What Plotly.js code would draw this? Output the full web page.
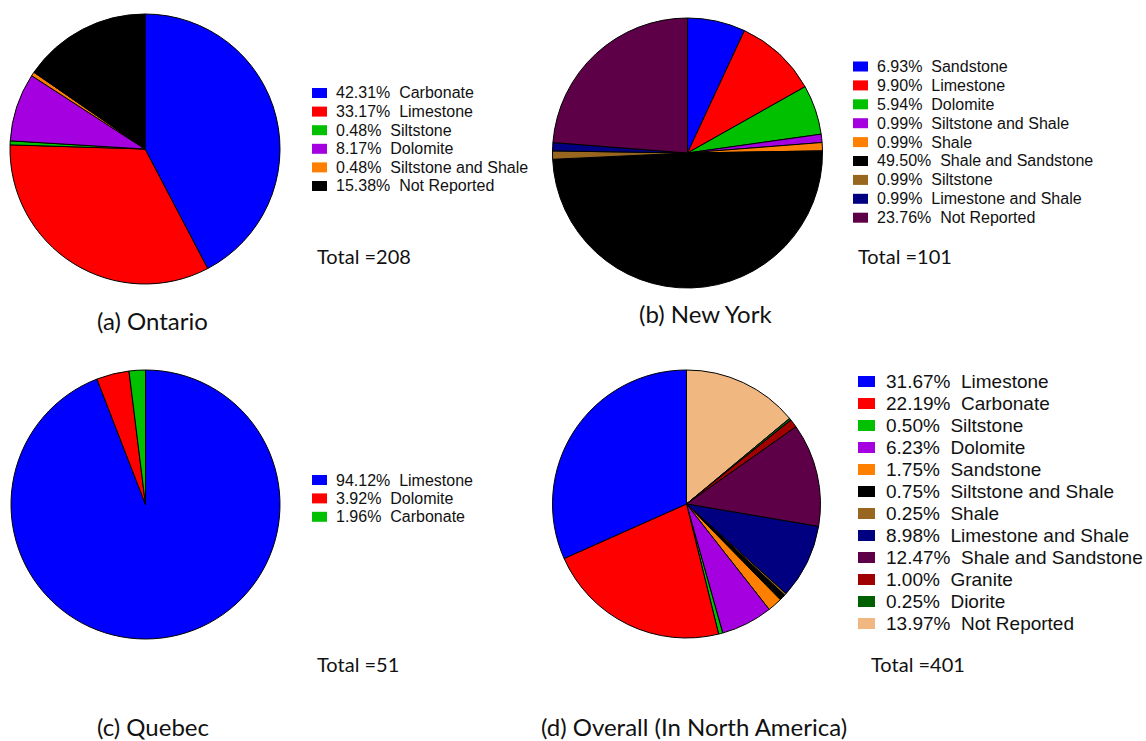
<!DOCTYPE html>
<html>
<head>
<meta charset="utf-8">
<script src="https://cdn.plot.ly/plotly-3.0.1.min.js"></script>
<style>html,body{margin:0;padding:0;background:#fff;}#chart{width:1146px;height:741px;}</style>
</head>
<body>
<div id="chart"></div>
<script>
// ---- data ----
const ontarioLabels = ['Carbonate','Limestone','Siltstone','Dolomite','Siltstone and Shale','Not Reported'];
const ontarioPct = [42.31,33.17,0.48,8.17,0.48,15.38];
const ontarioTotal = 208;

const newYorkLabels = ['Sandstone','Limestone','Dolomite','Siltstone and Shale','Shale','Shale and Sandstone','Siltstone','Limestone and Shale','Not Reported'];
const newYorkPct = [6.93,9.90,5.94,0.99,0.99,49.50,0.99,0.99,23.76];
const newYorkTotal = 101;

const quebecLabels = ['Limestone','Dolomite','Carbonate'];
const quebecPct = [94.12,3.92,1.96];
const quebecTotal = 51;

const overallLabels = ['Limestone','Carbonate','Siltstone','Dolomite','Sandstone','Siltstone and Shale','Shale','Limestone and Shale','Shale and Sandstone','Granite','Diorite','Not Reported'];
const overallPct = [31.67,22.19,0.50,6.23,1.75,0.75,0.25,8.98,12.47,1.00,0.25,13.97];
const overallTotal = 401;

const captions = ['(a) Ontario','(b) New York','(c) Quebec','(d) Overall (In North America)'];

// ---- styles ----
const C = {
  blue:'#0000FF', red:'#FF0000', green:'#00C000', purple:'#A400E0', orange:'#FF8000',
  black:'#000000', brown:'#99661F', navy:'#000080', dpurple:'#5E0048', dred:'#A00000',
  dgreen:'#006000', tan:'#F0B880'
};
const ontarioColors = [C.blue,C.red,C.green,C.purple,C.orange,C.black];
const newYorkColors = [C.blue,C.red,C.green,C.purple,C.orange,C.black,C.brown,C.navy,C.dpurple];
const quebecColors = [C.blue,C.red,C.green];
const overallColors = [C.blue,C.red,C.green,C.purple,C.orange,C.black,C.brown,C.navy,C.dpurple,C.dred,C.dgreen,C.tan];

const W = 1146, H = 741;
const px = x => x / W;
const py = y => 1 - y / H;

// ccw: slices run counter-clockwise from 12 o'clock (drawn as reversed clockwise order)
const panels = [
  {labels:ontarioLabels, pct:ontarioPct, colors:ontarioColors, total:ontarioTotal, ccw:false,
   cx:145, cy:149, r:135, legX:312, legY:93, legDy:18.6, fs:16, sqW:15, sqH:10, textX:334,
   totX:315, totY:256, capX:95, capY:320, cap:captions[0]},
  {labels:newYorkLabels, pct:newYorkPct, colors:newYorkColors, total:newYorkTotal, ccw:false,
   cx:687.5, cy:153, r:135, legX:853, legY:66.5, legDy:18.9, fs:16, sqW:15, sqH:10, textX:875,
   totX:856, totY:256, capX:637, capY:313, cap:captions[1]},
  {labels:quebecLabels, pct:quebecPct, colors:quebecColors, total:quebecTotal, ccw:false,
   cx:145.5, cy:504.5, r:134.5, legX:312, legY:480, legDy:18.4, fs:16, sqW:15, sqH:10, textX:334,
   totX:315, totY:664, capX:95, capY:726, cap:captions[2]},
  {labels:overallLabels, pct:overallPct, colors:overallColors, total:overallTotal, ccw:true,
   cx:686.5, cy:504, r:134, legX:858, legY:381.5, legDy:22.0, fs:19, sqW:17, sqH:11, textX:884,
   totX:869, totY:664, capX:539, capY:726, cap:captions[3]}
];

const traces = [];
const annotations = [];
const shapes = [];
const capFont = {family:'Lato, "Open Sans", sans-serif', color:'#111'};

panels.forEach(p => {
  const vals = p.ccw ? p.pct.slice().reverse() : p.pct;
  const labs = p.ccw ? p.labels.slice().reverse() : p.labels;
  const cols = p.ccw ? p.colors.slice().reverse() : p.colors;
  traces.push({
    type:'pie',
    values:vals,
    labels:labs,
    sort:false,
    direction:'clockwise',
    rotation:0,
    textinfo:'none',
    hoverinfo:'label+percent',
    marker:{colors:cols, line:{color:'#000', width:1}},
    domain:{x:[px(p.cx - p.r), px(p.cx + p.r)], y:[py(p.cy + p.r), py(p.cy - p.r)]},
    showlegend:false
  });
  p.labels.forEach((lab, i) => {
    const yc = p.legY + i * p.legDy;
    shapes.push({
      type:'rect', xref:'paper', yref:'paper',
      x0:px(p.legX), x1:px(p.legX + p.sqW),
      y0:py(yc + p.sqH/2), y1:py(yc - p.sqH/2),
      fillcolor:p.colors[i], line:{width:0}
    });
    annotations.push({
      xref:'paper', yref:'paper', x:px(p.textX), y:py(yc),
      xanchor:'left', yanchor:'middle', showarrow:false,
      text:p.pct[i].toFixed(2) + '%\u00a0\u00a0' + lab,
      font:{family:'"Liberation Sans", Arial, sans-serif', size:p.fs, color:'#111'}
    });
  });
  annotations.push({
    xref:'paper', yref:'paper', x:px(p.totX), y:py(p.totY),
    xanchor:'left', yanchor:'middle', showarrow:false,
    text:'Total =' + p.total,
    font:Object.assign({size:20}, capFont)
  });
  annotations.push({
    xref:'paper', yref:'paper', x:px(p.capX), y:py(p.capY),
    xanchor:'left', yanchor:'middle', showarrow:false,
    text:p.cap,
    font:Object.assign({size:24}, capFont)
  });
});

const layout = {
  width:W, height:H,
  margin:{l:0,r:0,t:0,b:0},
  paper_bgcolor:'#fff',
  showlegend:false,
  annotations:annotations,
  shapes:shapes
};

Plotly.newPlot('chart', traces, layout, {displayModeBar:false, staticPlot:true});
</script>
</body>
</html>
